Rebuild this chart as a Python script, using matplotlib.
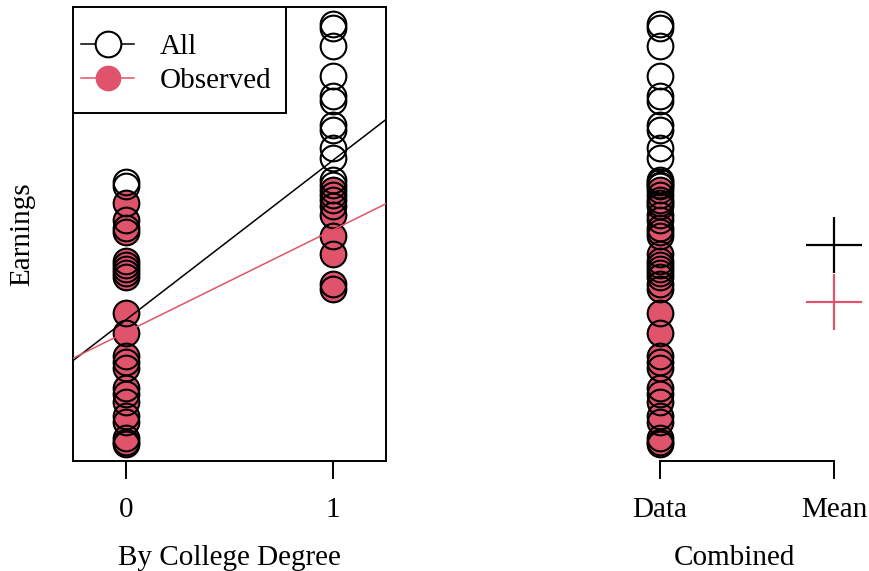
import numpy as np
import matplotlib
matplotlib.use("Agg")
import matplotlib.pyplot as plt
from matplotlib.patches import Rectangle

plt.rcParams['font.family'] = ['Liberation Serif', 'DejaVu Serif']
plt.rcParams['font.size'] = 21

RED = '#DF536B'

# earnings, grouped by college degree and observed status
deg0_unobs = [29.8, 29.4]
deg0_obs = [27.7, 26.0, 25.2, 24.8, 22.0, 21.6, 21.2, 20.8, 20.4, 16.8, 14.8,
            12.5, 12.0, 11.4, 9.4, 8.8, 8.0, 6.6, 6.0, 4.4, 4.0, 3.8]
deg1_unobs = [45.5, 45.1, 43.3, 40.3, 38.3, 37.8, 35.5, 35.0, 33.2, 32.2, 30.0, 29.5]
deg1_obs = [29.0, 28.5, 28.0, 27.4, 26.5, 24.5, 22.7, 19.7, 19.2]

deg_ticks = [0, 1]
comb_ticks = ['Data', 'Mean']
legend_labels = ['All', 'Observed']

x_all = np.array([0] * len(deg0_unobs + deg0_obs) + [1] * len(deg1_unobs + deg1_obs))
y_all = np.array(deg0_unobs + deg0_obs + deg1_unobs + deg1_obs)
x_obs = np.array([0] * len(deg0_obs) + [1] * len(deg1_obs))
y_obs = np.array(deg0_obs + deg1_obs)

W, H = 870, 571
fig = plt.figure(figsize=(W / 100, H / 100), dpi=100)

def px_axes(x0, x1, y0, y1):
    return fig.add_axes([x0 / W, 1 - y1 / H, (x1 - x0) / W, (y1 - y0) / H])

ymin, ymax = y_all.min(), y_all.max()
ylim = (ymin - 0.04 * (ymax - ymin), ymax + 0.04 * (ymax - ymin))

ms, mew = 18.5, 1.5
lab_y = -(555 - 461) / 454  # axis title position below the box

# ---- left panel: by college degree
ax = px_axes(73, 386, 7, 461)
ax.plot(x_obs, y_obs, 'o', ms=ms, color=RED, mew=0, zorder=2)
ax.plot(x_all, y_all, 'o', ms=ms, mfc='none', mec='black', mew=mew, zorder=3)

xx = np.array([-0.3, 1.3])
b_all = np.polyfit(x_all, y_all, 1)
b_obs = np.polyfit(x_obs, y_obs, 1)
ax.plot(xx, np.polyval(b_all, xx), color='black', lw=1.1, zorder=4)
ax.plot(xx, np.polyval(b_obs, xx), color=RED, lw=1.1, zorder=4)

ax.set_xlim(-0.256, 1.256)
ax.set_ylim(*ylim)
ax.set_xticks(deg_ticks)
ax.set_xticklabels([str(t) for t in deg_ticks])
ax.set_yticks([])
ax.tick_params(axis='x', length=13, width=1.4, pad=13, direction='out')
for s in ax.spines.values():
    s.set_linewidth(1.4)
ax.set_xlabel('By College Degree', va='center_baseline')
ax.xaxis.set_label_coords(0.5, lab_y)
ax.set_ylabel('Earnings', va='center')
ax.yaxis.set_label_coords(-(73 - 22) / 313, 0.5)

# legend drawn by hand (R style: box in the top-left corner)
ax.add_patch(Rectangle((0, 1 - 106 / 454), 213 / 313, 106 / 454, transform=ax.transAxes,
                       fc='white', ec='black', lw=1.4, zorder=6))
row_y = [1 - 37 / 454, 1 - 71 / 454]
lx0, lx1, lxm, tx = 8 / 313, 61 / 313, 34.5 / 313, 87 / 313
ax.plot([lx0, lx1], [row_y[0]] * 2, color='black', lw=1.1, transform=ax.transAxes, zorder=7)
ax.plot([lxm], [row_y[0]], 'o', ms=ms, mfc='white', mec='black', mew=mew,
        transform=ax.transAxes, zorder=8)
ax.plot([lx0, lx1], [row_y[1]] * 2, color=RED, lw=1.1, transform=ax.transAxes, zorder=7)
ax.plot([lxm], [row_y[1]], 'o', ms=ms, color=RED, mew=0, transform=ax.transAxes, zorder=8)
for yy, lab in zip(row_y, legend_labels):
    ax.text(tx, yy, lab, transform=ax.transAxes, va='center_baseline', ha='left', zorder=8)

# ---- right panel: combined
ax2 = px_axes(573, 869, 7, 461)
ax2.plot(np.ones(len(y_obs)), y_obs, 'o', ms=ms, color=RED, mew=0, zorder=2)
ax2.plot(np.ones(len(y_all)), y_all, 'o', ms=ms, mfc='none', mec='black', mew=mew, zorder=3)
ax2.plot([2], [y_all.mean()], '+', ms=40, mew=1.6, color='black', clip_on=False)
ax2.plot([2], [y_obs.mean()], '+', ms=40, mew=1.6, color=RED, clip_on=False)
ax2.set_xlim(0.5, 2.2)
ax2.set_ylim(*ylim)
ax2.set_xticks([1, 2])
ax2.set_xticklabels(comb_ticks)
ax2.set_yticks([])
for side in ['top', 'right', 'left']:
    ax2.spines[side].set_visible(False)
ax2.spines['bottom'].set_bounds(1, 2)
ax2.spines['bottom'].set_linewidth(1.4)
ax2.tick_params(axis='x', length=13, width=1.4, pad=13, direction='out')
ax2.set_xlabel('Combined', va='center_baseline')
ax2.xaxis.set_label_coords((734 - 573) / (869 - 573), lab_y)

fig.savefig('out.png', dpi=100)
